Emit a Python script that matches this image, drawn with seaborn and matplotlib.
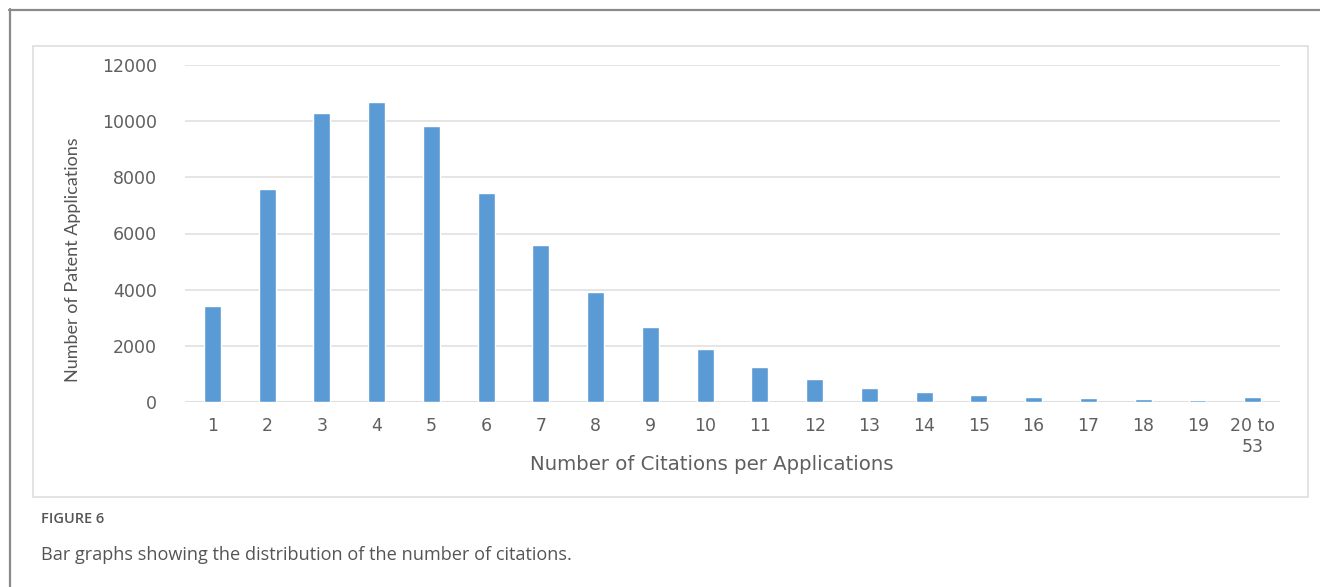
import matplotlib
matplotlib.use("Agg")
import matplotlib.pyplot as plt
from matplotlib.patches import Rectangle
from matplotlib.lines import Line2D
import seaborn as sns
import pandas as pd

# Citation counts per application and how many applications fall in each bin
citation_bins = ["1", "2", "3", "4", "5", "6", "7", "8", "9", "10",
                 "11", "12", "13", "14", "15", "16", "17", "18", "19", "20 to\n53"]
applications = [3420, 7580, 10290, 10690, 9840, 7440, 5600, 3930, 2680, 1870,
                1250, 830, 510, 340, 235, 165, 145, 95, 70, 190]
y_ticks = [0, 2000, 4000, 6000, 8000, 10000, 12000]

df = pd.DataFrame({"bin": citation_bins, "count": applications})

sns.set_theme(style="white")
plt.rcParams["font.family"] = ["DejaVu Sans"]

W, H = 1320, 587
fig = plt.figure(figsize=(W / 100, H / 100), dpi=100)

def fx(px):
    return px / W

def fy(py):
    return 1 - py / H

# outer page frame (top and left edges)
fig.add_artist(Line2D([fx(9), 1.0], [fy(9.5), fy(9.5)], transform=fig.transFigure,
                      color="#8a8a8a", lw=1.6))
fig.add_artist(Line2D([fx(9.5), fx(9.5)], [fy(9), 0.0], transform=fig.transFigure,
                      color="#8a8a8a", lw=1.6))

# light chart-area box
fig.add_artist(Rectangle((fx(33), fy(497)), fx(1308) - fx(33), fy(46) - fy(497),
                         transform=fig.transFigure, fill=False,
                         edgecolor="#dedede", lw=1.2))

ax = fig.add_axes([fx(185), fy(402), fx(1280) - fx(185), fy(65) - fy(402)])

sns.barplot(data=df, x="bin", y="count", order=citation_bins, color="#5B9BD5",
            saturation=1, width=0.31, ax=ax, zorder=3)

ax.set_xlim(-0.5, len(citation_bins) - 0.5)
ax.set_ylim(0, 12000)
ax.set_yticks(y_ticks)
ax.set_yticklabels([str(t) for t in y_ticks])
ax.yaxis.grid(True, color="#e3e3e3", lw=1.3, zorder=0)
ax.xaxis.grid(False)
for s in ax.spines.values():
    s.set_visible(False)
ax.axhline(0, color="#e0e0e0", lw=1.5, zorder=2)

ax.tick_params(axis="both", length=0, labelsize=12.5, colors="#5f5f5f")
ax.tick_params(axis="x", pad=11)
ax.tick_params(axis="y", pad=20)

ax.set_xlabel("Number of Citations per Applications", fontsize=14.2, color="#5f5f5f")
ax.xaxis.set_label_coords((712 - 185) / 1095, -(464 - 402) / 337, transform=ax.transAxes)
ax.xaxis.label.set_verticalalignment("center")

ax.set_ylabel("Number of Patent Applications", fontsize=13, color="#555555",
              family=["Lato", "DejaVu Sans"])
ax.yaxis.set_label_coords(-(185 - 73) / 1095, (402 - 260) / 337, transform=ax.transAxes)
ax.yaxis.label.set_verticalalignment("center")

# caption below the chart
fig.text(fx(41), fy(519), "FIGURE 6", fontsize=10.5, color="#555555", weight="semibold",
         family=["Open Sans", "DejaVu Sans"], va="center", ha="left")
fig.text(fx(41), fy(555), "Bar graphs showing the distribution of the number of citations.",
         fontsize=13.1, color="#555555", family=["Open Sans", "DejaVu Sans"],
         va="center", ha="left")

fig.savefig("out.png", dpi=100, facecolor="white")
